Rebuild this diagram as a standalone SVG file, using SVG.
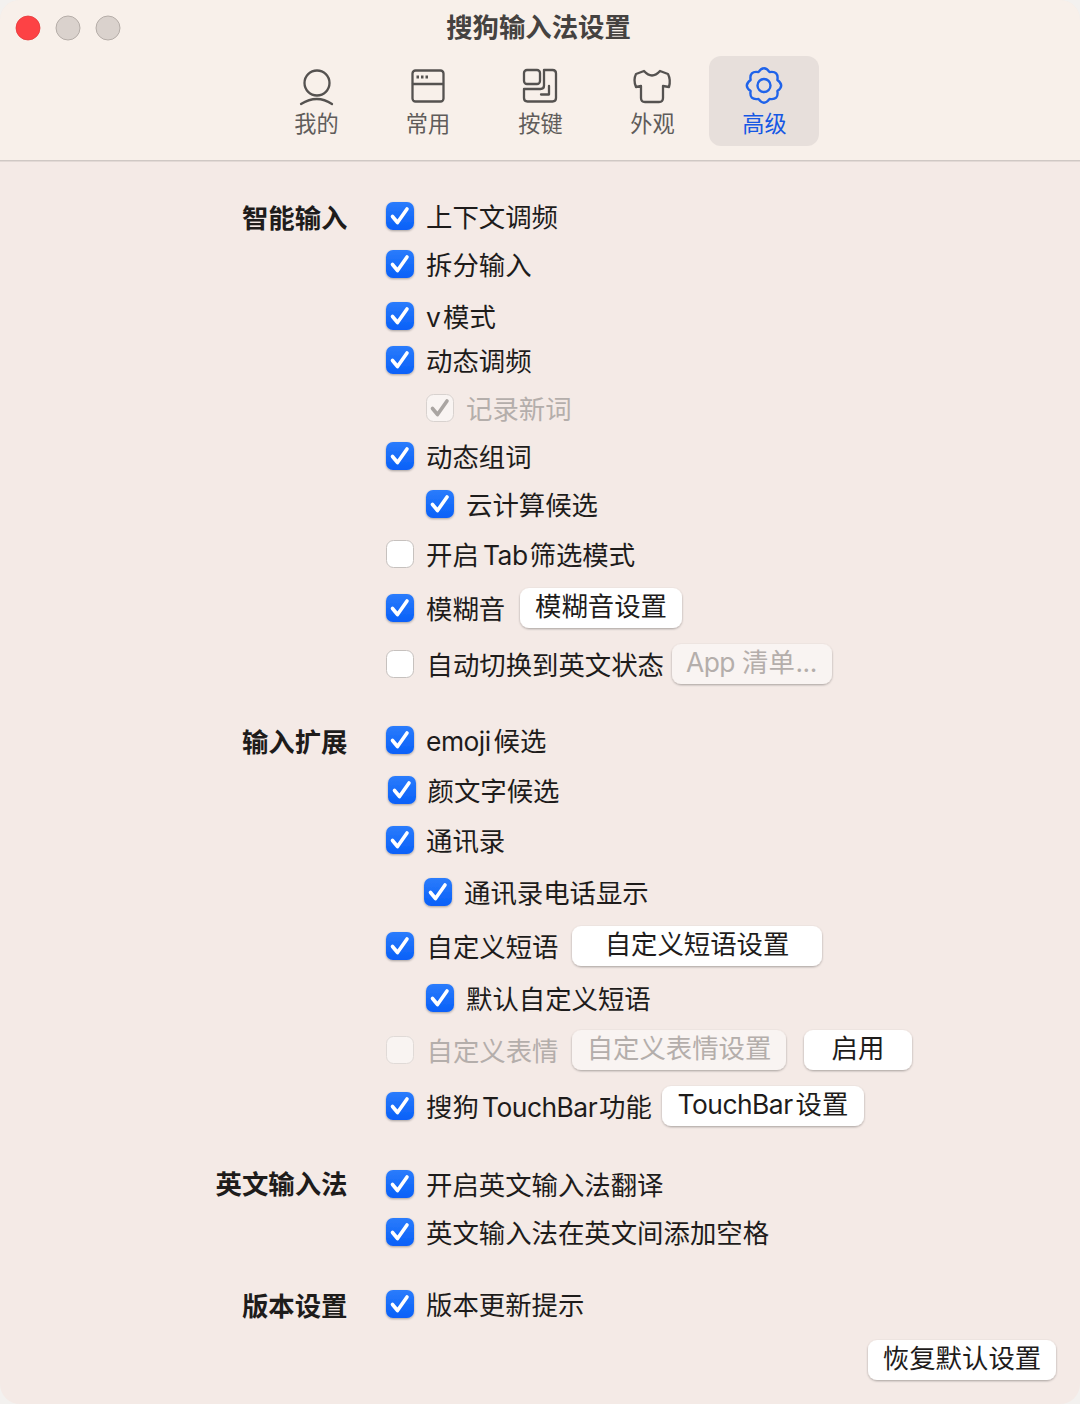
<svg xmlns="http://www.w3.org/2000/svg" width="1080" height="1404" viewBox="0 0 1080 1404">
<style>
text{font-family:"Noto Sans CJK SC","Noto Sans",sans-serif;font-size:26.4px;fill:#1e1c1b}
.l{font-family:Inter,"Noto Sans",sans-serif;letter-spacing:-.5px}
.b{font-weight:700;text-anchor:end}
.d{fill:#b4aeab}
.t{font-size:22.2px;fill:#5f5c5a;text-anchor:middle}
.c{text-anchor:middle}
.btn{fill:#fff;filter:url(#s)}
.dbtn{fill:#f9f4f2;filter:url(#s)}
.ic{fill:none;stroke:#555250;stroke-width:2.3;stroke-linecap:round;stroke-linejoin:round}
</style>
<defs>
<linearGradient id="g" x1="0" y1="0" x2="0" y2="1"><stop offset="0" stop-color="#2b7cfc"/><stop offset="1" stop-color="#0860f8"/></linearGradient>
<filter id="s" x="-10%" y="-20%" width="120%" height="150%"><feDropShadow dx="0" dy="1" stdDeviation="0.9" flood-color="#000" flood-opacity="0.32"/></filter>
<g id="on"><rect width="28" height="28" rx="7" fill="url(#g)" filter="url(#s)"/><path d="M6.500 14.500l5 6 9.500-13.500" fill="none" stroke="#fff" stroke-width="3.6" stroke-linecap="round" stroke-linejoin="round"/></g>
<g id="off"><rect x=".5" y=".5" width="27" height="27" rx="7" fill="#fff" stroke="#c6c1be"/></g>
<g id="doff"><rect x=".5" y=".5" width="27" height="27" rx="7" fill="#f9f4f2" stroke="#e0dad7"/></g>
<g id="don"><rect x=".5" y=".5" width="27" height="27" rx="7" fill="#f9f4f2" stroke="#d8d2cf"/><path d="M6.500 14.500l5 6 9.500-13.500" fill="none" stroke="#aaa5a2" stroke-width="3.6" stroke-linecap="round" stroke-linejoin="round"/></g>
</defs>
<rect width="1080" height="1404" fill="#f3f1ef"/>
<rect id="window" width="1080" height="1404" rx="20" fill="#f4eae6"/>
<path id="titlebar" d="M0 160V20A20 20 0 0 1 20 0H1060A20 20 0 0 1 1080 20V160Z" fill="#f8f0ea"/>
<rect y="160" width="1080" height="1.5" fill="#cfc8c4"/>
<g id="lights">
<circle cx="28" cy="28" r="12" fill="#fd4245" stroke="#e5383a" stroke-width=".8"/>
<circle cx="68" cy="28" r="12" fill="#dad2cd" stroke="#b5ada8"/>
<circle cx="108" cy="28" r="12" fill="#dad2cd" stroke="#b5ada8"/>
</g>
<text id="title" x="538.500" y="37" class="c" style="font-weight:700;fill:#454240">搜狗输入法设置</text>
<g id="tab-mine">
<circle class="ic" cx="317" cy="83" r="12.500"/><path class="ic" d="M301 104Q317 94 332 104"/>
<text class="t" x="316.500" y="132">我的</text></g>
<g id="tab-common">
<rect class="ic" x="412.500" y="70.500" width="31" height="31" rx="3"/><path class="ic" d="M413 84H443"/><path d="M416.500 77h2.500M421 77h2.500M425.500 77h2.500" stroke="#555250" stroke-width="3" fill="none"/>
<text class="t" x="428" y="132">常用</text></g>
<g id="tab-keys">
<rect class="ic" x="524" y="70" width="16" height="14" rx="3"/><path class="ic" d="M544 70H552.500Q556 70 556 73.500V98Q556 101.500 552.500 101.500H527.500Q524 101.500 524 98V89H540.500Q544 89 544 85.500Z"/><path class="ic" d="M549 86V94.500H541"/>
<text class="t" x="540.500" y="132">按键</text></g>
<g id="tab-look">
<path class="ic" d="M644 71Q652 80 660 71L668 74Q671 80 669 87L663 86V98Q663 102 659 102H645Q641 102 641 98V86L636 87Q633 80 636 74Z"/>
<text class="t" x="652.500" y="132">外观</text></g>
<g id="tab-advanced">
<rect x="709" y="56" width="110" height="90" rx="12" fill="#e7dfdb"/>
<g transform="translate(764 85.500)" fill="none" stroke="#1f63ea" stroke-width="2.4" stroke-linejoin="round"><circle r="6.500"/><path d="M-5.550-13.400Q0-21 5.550-13.400Q14.850-14.850 13.400-5.550Q21 0 13.400 5.550Q14.850 14.850 5.550 13.400Q0 21-5.550 13.400Q-14.850 14.850-13.400 5.550Q-21 0-13.400-5.550Q-14.850-14.850-5.550-13.400Z"/></g>
<text class="t" x="764.500" y="132" style="fill:#1658e4">高级</text></g>
<g id="section-labels">
<text class="b" x="347.500" y="228">智能输入</text>
<text class="b" x="347.500" y="752">输入扩展</text>
<text class="b" x="347.500" y="1194">英文输入法</text>
<text class="b" x="347.500" y="1316">版本设置</text>
</g>
<g id="options">
<use href="#on" x="386" y="202"/><text x="426" y="227">上下文调频</text>
<use href="#on" x="386" y="250"/><text x="426" y="275">拆分输入</text>
<use href="#on" x="386" y="302"/><text x="426" y="327"><tspan class="l">v</tspan><tspan x="443">模式</tspan></text>
<use href="#on" x="386" y="346"/><text x="426" y="371">动态调频</text>
<use href="#don" x="426" y="394"/><text class="d" x="466" y="419">记录新词</text>
<use href="#on" x="386" y="442"/><text x="426" y="467">动态组词</text>
<use href="#on" x="426" y="490"/><text x="466" y="515">云计算候选</text>
<use href="#off" x="386" y="540"/><text x="426" y="565">开启<tspan class="l" x="483">Tab</tspan><tspan x="529.500">筛选模式</tspan></text>
<use href="#on" x="386" y="594"/><text x="426" y="619">模糊音</text>
<use href="#off" x="386" y="650"/><text x="426.500" y="675">自动切换到英文状态</text>
<use href="#on" x="386" y="726"/><text x="426" y="751"><tspan class="l">emoji</tspan><tspan x="493.500">候选</tspan></text>
<use href="#on" x="388" y="776"/><text x="427.500" y="801">颜文字候选</text>
<use href="#on" x="386" y="826"/><text x="426" y="851">通讯录</text>
<use href="#on" x="424" y="878"/><text x="464" y="903">通讯录电话显示</text>
<use href="#on" x="386" y="932"/><text x="426.500" y="957">自定义短语</text>
<use href="#on" x="426" y="984"/><text x="466" y="1009">默认自定义短语</text>
<use href="#doff" x="386" y="1036"/><text class="d" x="426.500" y="1061">自定义表情</text>
<use href="#on" x="386" y="1092"/><text x="426" y="1117">搜狗<tspan class="l" x="482">TouchBar</tspan><tspan x="599">功能</tspan></text>
<use href="#on" x="386" y="1170"/><text x="426" y="1195">开启英文输入法翻译</text>
<use href="#on" x="386" y="1218"/><text x="426" y="1243">英文输入法在英文间添加空格</text>
<use href="#on" x="386" y="1290"/><text x="426" y="1315">版本更新提示</text>
</g>
<g id="btn-fuzzy"><rect class="btn" x="520" y="588" width="162" height="40" rx="9"/><text class="c" x="601" y="616">模糊音设置</text></g>
<g id="btn-app"><rect class="dbtn" x="672" y="644" width="160" height="40" rx="9"/><text class="d" x="686" y="672"><tspan class="l">App</tspan><tspan x="742">清单</tspan><tspan class="l" x="795.500">...</tspan></text></g>
<g id="btn-phrase"><rect class="btn" x="572" y="926" width="250" height="40" rx="9"/><text class="c" x="697" y="954">自定义短语设置</text></g>
<g id="btn-emoji"><rect class="dbtn" x="572" y="1030" width="214" height="40" rx="9"/><text class="c d" x="679" y="1058">自定义表情设置</text></g>
<g id="btn-enable"><rect class="btn" x="804" y="1030" width="108" height="40" rx="9"/><text class="c" x="858" y="1058">启用</text></g>
<g id="btn-touchbar"><rect class="btn" x="662" y="1086" width="202" height="40" rx="9"/><text x="677.500" y="1114"><tspan class="l">TouchBar</tspan><tspan x="795.500">设置</tspan></text></g>
<g id="btn-reset"><rect class="btn" x="868" y="1340" width="188" height="40" rx="9"/><text class="c" x="962" y="1368">恢复默认设置</text></g>
</svg>
